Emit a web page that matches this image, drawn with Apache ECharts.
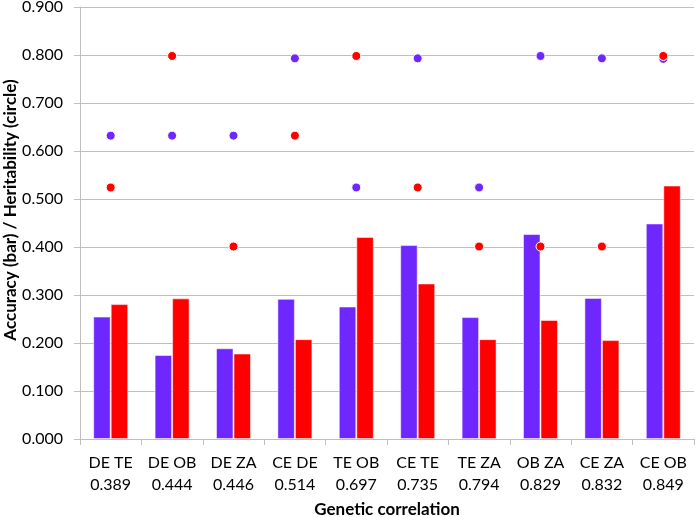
<!DOCTYPE html>
<html>
<head>
<meta charset="utf-8">
<script src="https://cdn.jsdelivr.net/npm/echarts@6/dist/echarts.min.js"></script>
<style>
  html, body { margin: 0; padding: 0; background: #fff; }
  #chart { width: 697px; height: 517px; }
</style>
</head>
<body>
<div id="chart"></div>
<script>
// trait pairs and their genetic correlation
const pairs = ['DE TE', 'DE OB', 'DE ZA', 'CE DE', 'TE OB', 'CE TE', 'TE ZA', 'OB ZA', 'CE ZA', 'CE OB']
const correlations = ['0.389', '0.444', '0.446', '0.514', '0.697', '0.735', '0.794', '0.829', '0.832', '0.849']

// accuracy (bars)
const accuracyA = [0.255, 0.175, 0.189, 0.292, 0.276, 0.404, 0.254, 0.427, 0.294, 0.449]
const accuracyB = [0.281, 0.293, 0.178, 0.208, 0.421, 0.324, 0.208, 0.248, 0.206, 0.528]

// heritability (circles)
const heritA = [0.632, 0.632, 0.632, 0.793, 0.524, 0.793, 0.524, 0.798, 0.793, 0.792]
const heritB = [0.524, 0.798, 0.401, 0.632, 0.798, 0.524, 0.401, 0.401, 0.401, 0.798]

const purple = '#6e28ff'
const red = '#ff0000'
const font = 'Lato, "Open Sans", sans-serif'

const categories = pairs.map((p, i) => p + '\n' + correlations[i])

const chart = echarts.init(document.getElementById('chart'))
chart.setOption({
  animation: false,
  textStyle: { fontFamily: font },
  grid: { left: 80, right: 3, top: 7, bottom: 78, outerBoundsMode: 'none' },
  // y axis title drawn by hand so it sits where the original one does
  graphic: [
    {
      type: 'text',
      x: 11,
      y: 210,
      rotation: Math.PI / 2,
      style: {
        text: 'Accuracy (bar) / Heritability (circle)',
        font: 'bold 17px ' + font,
        fill: '#000',
        align: 'center',
        verticalAlign: 'middle'
      }
    }
  ],
  xAxis: {
    type: 'category',
    data: categories,
    name: 'Genetic correlation',
    nameLocation: 'middle',
    nameGap: 61,
    nameTextStyle: { fontSize: 17, fontWeight: 'bold', color: '#000', fontFamily: font },
    axisLine: { lineStyle: { color: '#bfbfbf' } },
    axisTick: { show: true, length: 6, lineStyle: { color: '#bfbfbf' } },
    axisLabel: { interval: 0, color: '#000', fontSize: 16, lineHeight: 22, margin: 13, fontFamily: font }
  },
  yAxis: {
    type: 'value',
    min: 0,
    max: 0.9,
    interval: 0.1,
    axisLine: { show: true, lineStyle: { color: '#bfbfbf' } },
    axisTick: { show: true, length: 6, lineStyle: { color: '#bfbfbf' } },
    splitLine: { lineStyle: { color: '#bfbfbf' } },
    axisLabel: {
      color: '#000',
      fontSize: 16,
      margin: 17,
      fontFamily: font,
      formatter: v => v.toFixed(3)
    }
  },
  series: [
    {
      type: 'bar',
      data: accuracyA,
      barGap: '0%',
      barCategoryGap: '43%',
      itemStyle: { color: purple, borderColor: 'rgba(255,255,255,0.5)', borderWidth: 1 }
    },
    {
      type: 'bar',
      data: accuracyB,
      itemStyle: { color: red, borderColor: 'rgba(255,255,255,0.5)', borderWidth: 1 }
    },
    {
      type: 'scatter',
      data: heritA,
      symbolSize: 9,
      itemStyle: { color: purple, borderColor: '#fff', borderWidth: 1, opacity: 1 },
      z: 3
    },
    {
      type: 'scatter',
      data: heritB,
      symbolSize: 9,
      itemStyle: { color: red, borderColor: '#fff', borderWidth: 1, opacity: 1 },
      z: 4
    }
  ]
})
</script>
</body>
</html>
